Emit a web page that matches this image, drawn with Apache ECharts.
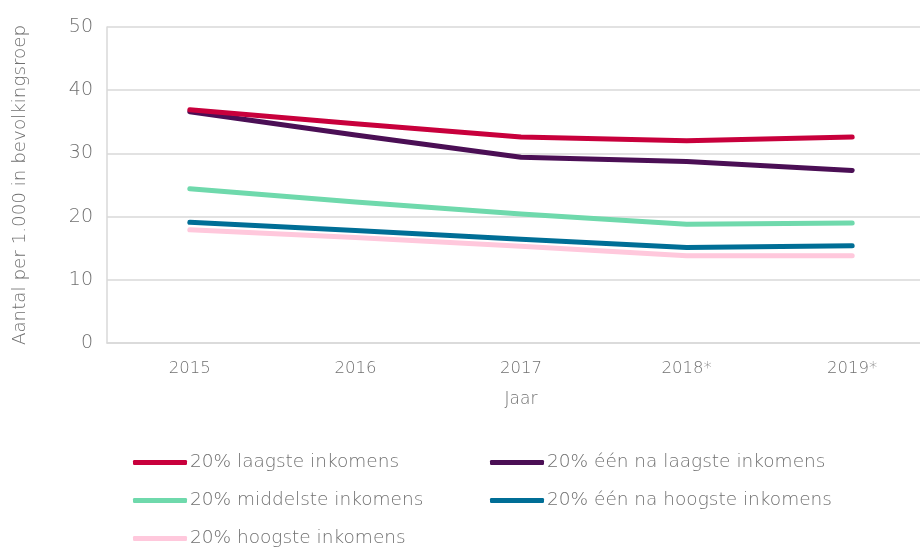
<!DOCTYPE html>
<html>
<head>
<meta charset="utf-8">
<script src="https://cdn.jsdelivr.net/npm/echarts@6/dist/echarts.min.js"></script>
<style>
  html, body { margin: 0; padding: 0; background: #fff; overflow: hidden; }
  #chart { width: 935px; height: 549px; }
</style>
</head>
<body>
<div id="chart"></div>
<script>
// Years on the horizontal axis
const years = ['2015', '2016', '2017', '2018*', '2019*'];

// Number per 1,000 per income group
const laagste = [36.9, 34.7, 32.6, 32.0, 32.6];
const eenNaLaagste = [36.6, 32.9, 29.4, 28.7, 27.3];
const middelste = [24.4, 22.3, 20.4, 18.8, 19.0];
const eenNaHoogste = [19.1, 17.8, 16.4, 15.1, 15.4];
const hoogste = [17.9, 16.7, 15.3, 13.8, 13.8];

const seriesNames = [
  '20% laagste inkomens',
  '20% één na laagste inkomens',
  '20% middelste inkomens',
  '20% één na hoogste inkomens',
  '20% hoogste inkomens'
];
const seriesData = [laagste, eenNaLaagste, middelste, eenNaHoogste, hoogste];
const colors = ['#C8003C', '#4B0F55', '#6FD9AC', '#006E96', '#FFC8DC'];

const font = '"DejaVu Sans", sans-serif';
const textColor = '#707070';

// One legend box per entry so they sit in a two-column grid
const legendPos = [
  { left: 133, top: 453 },
  { left: 490, top: 453 },
  { left: 133, top: 491 },
  { left: 490, top: 491 },
  { left: 133, top: 529 }
];

const chart = echarts.init(document.getElementById('chart'), null, { renderer: 'canvas' });

chart.setOption({
  animation: false,
  color: colors,
  grid: { left: 107, right: 0, top: 27, height: 316, containLabel: false },
  xAxis: {
    type: 'category',
    data: years,
    boundaryGap: true,
    name: 'Jaar',
    nameLocation: 'middle',
    nameGap: 48,
    nameTextStyle: { color: textColor, fontSize: 17, fontFamily: font, fontWeight: 200 },
    axisLine: { show: true, lineStyle: { color: '#d9d9d9', width: 1.5 } },
    axisTick: { show: false },
    axisLabel: { color: textColor, fontSize: 16.5, fontFamily: font, fontWeight: 200, margin: 17 }
  },
  yAxis: {
    type: 'value',
    min: 0,
    max: 50,
    interval: 10,
    name: 'Aantal per 1.000 in bevolkingsroep',
    nameLocation: 'middle',
    nameGap: 78,
    nameRotate: 90,
    nameTextStyle: { color: textColor, fontSize: 18.3, fontFamily: font, fontWeight: 200 },
    axisLine: { show: true, lineStyle: { color: '#d9d9d9', width: 1.5 } },
    axisTick: { show: false },
    axisLabel: { color: textColor, fontSize: 19, fontFamily: font, fontWeight: 200, margin: 14 },
    splitLine: { show: true, lineStyle: { color: '#d9d9d9', width: 1.5 } }
  },
  legend: seriesNames.map((name, i) => ({
    data: [name],
    left: legendPos[i].left,
    top: legendPos[i].top,
    padding: 0,
    icon: 'roundRect',
    itemWidth: 54,
    itemHeight: 5,
    selectedMode: false,
    textStyle: { color: textColor, fontSize: 18.5, fontFamily: font, fontWeight: 200, padding: [0, 0, 0, -2] }
  })),
  series: seriesNames.map((name, i) => ({
    name: name,
    type: 'line',
    data: seriesData[i],
    symbol: 'none',
    lineStyle: { width: 5, color: colors[i], cap: 'round', join: 'round' },
    itemStyle: { color: colors[i] },
    z: 10 - i
  }))
});
</script>
</body>
</html>
